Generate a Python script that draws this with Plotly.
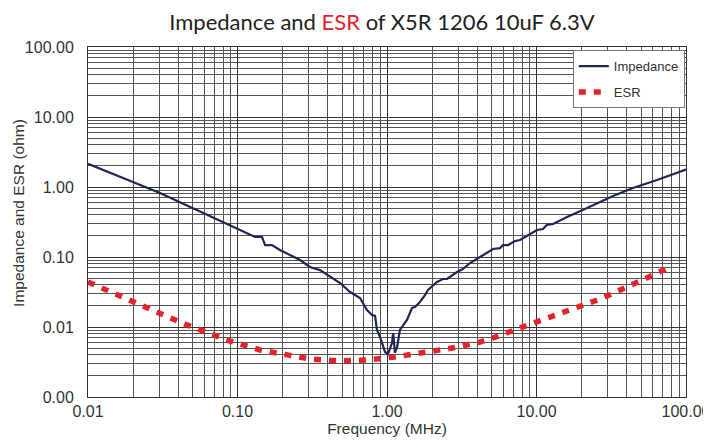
import plotly.graph_objects as go

# Impedance curve (frequency in MHz, impedance in ohm)
imp_freq = [0.01, 0.02, 0.0303, 0.104, 0.125, 0.131, 0.146, 0.153, 0.170, 0.192,
            0.262, 0.305, 0.356, 0.416, 0.486, 0.566, 0.660, 0.735, 0.794, 0.832,
            0.857, 0.898, 0.970, 1.016, 1.08, 1.10, 1.13, 1.17, 1.22, 1.36,
            1.47, 1.54, 1.66, 1.80, 1.88, 2.16, 2.37, 2.52, 2.76, 2.94,
            3.22, 3.59, 4.19, 4.67, 5.12, 5.70, 5.97, 6.44, 7.18, 7.76,
            8.63, 10.07, 11.05, 11.7, 12.9, 16.0, 21.8, 32.5, 44.2, 64.0, 100.0]
imp_vals = [2.15, 1.18, 0.82, 0.243, 0.206, 0.193, 0.193, 0.148, 0.148, 0.126,
            0.0906, 0.072, 0.065, 0.0518, 0.0425, 0.0316, 0.026, 0.0175, 0.0148, 0.0144,
            0.00906, 0.0072, 0.0044, 0.0041, 0.0059, 0.0082, 0.0043, 0.0052, 0.0091, 0.0126,
            0.0187, 0.0193, 0.0228, 0.0287, 0.0338, 0.044, 0.0485, 0.0485, 0.0553, 0.061,
            0.0674, 0.082, 0.1, 0.114, 0.130, 0.134, 0.148, 0.148, 0.169, 0.175,
            0.2, 0.243, 0.251, 0.287, 0.296, 0.373, 0.5, 0.744, 0.968, 1.26, 1.78]

# ESR curve
esr_freq = [0.01, 0.0136, 0.0169, 0.0203, 0.0252, 0.0308, 0.0370, 0.0459, 0.0544,
            0.089, 0.1415, 0.2245, 0.305, 0.470, 0.735, 1.13, 1.74, 2.72, 4.19,
            5.12, 7.76, 11.7, 17.5, 26.6, 40.3, 60.1, 75.9]
esr_vals = [0.044, 0.0327, 0.0268, 0.0228, 0.0181, 0.0153, 0.0130, 0.0107, 0.00936,
            0.0063, 0.0047, 0.00385, 0.00349, 0.00327, 0.00338, 0.00373, 0.00425, 0.0050, 0.0061,
            0.00697, 0.0097, 0.01345, 0.0181, 0.0251, 0.0373, 0.0553, 0.0697]

x_tickvals = [0.01, 0.1, 1, 10, 100]
x_ticktext = ["0.01", "0.10", "1.00", "10.00", "100.00"]
y_tickvals = [0.001, 0.01, 0.1, 1, 10, 100]
y_ticktext = ["0.00", "0.01", "0.10", "1.00", "10.00", "100.00"]

fig = go.Figure()
fig.add_trace(go.Scatter(x=imp_freq, y=imp_vals, mode="lines", name="Impedance",
                         legendgroup="a",
                         line=dict(color="#1f2755", width=2.2)))
fig.add_trace(go.Scatter(x=esr_freq, y=esr_vals, mode="lines", name="ESR",
                         legendgroup="b",
                         line=dict(color="#e3232a", width=5.5, dash="7px,8px")))

axis_font = dict(family="Liberation Sans, Arial, sans-serif", size=16, color="#333")

fig.update_layout(
    width=703, height=429,
    margin=dict(l=80, r=25, t=39, b=40, autoexpand=False),
    paper_bgcolor="white", plot_bgcolor="white",
    title=dict(text="Impedance and <span style='color:#e3232a'>ESR</span> of X5R 1206 10uF 6.3V",
               x=0.532, xanchor="center", y=0.966, yanchor="middle",
               font=dict(family="Lato, Open Sans, sans-serif", size=22, color="#222")),
    legend=dict(x=0.998, y=0.991, xanchor="right", yanchor="top",
                bgcolor="white", bordercolor="#777", borderwidth=1,
                font=dict(family="Liberation Sans, Arial, sans-serif", size=13, color="#333"),
                tracegroupgap=6),
    showlegend=True,
    annotations=[dict(text="Impedance and ESR (ohm)", textangle=-90,
                      xref="paper", yref="paper", x=-0.1154, y=0.526,
                      xanchor="center", yanchor="middle", showarrow=False,
                      font=dict(family="Liberation Sans, Arial, sans-serif", size=15.5, color="#333"))],
)
fig.update_xaxes(type="log", range=[-2, 2], tickvals=x_tickvals, ticktext=x_ticktext,
                 tickfont=axis_font, showgrid=True, gridcolor="#333", gridwidth=1,
                 minor=dict(dtick="D1", showgrid=True, gridcolor="#555", gridwidth=1),
                 showline=True, linecolor="#333", linewidth=1, mirror=True,
                 ticks="", zeroline=False, automargin=False,
                 title=dict(text="Frequency (MHz)", font=dict(family="Liberation Sans, Arial, sans-serif",
                                                              size=15.5, color="#333"), standoff=2))
fig.update_yaxes(type="log", range=[-3, 2], tickvals=y_tickvals, ticktext=y_ticktext,
                 tickfont=axis_font, showgrid=True, gridcolor="#333", gridwidth=1,
                 minor=dict(dtick="D1", showgrid=True, gridcolor="#555", gridwidth=1),
                 showline=True, linecolor="#333", linewidth=1, mirror=True,
                 ticks="", zeroline=False, ticklabelstandoff=10, automargin=False)

fig.write_html("out.html")
